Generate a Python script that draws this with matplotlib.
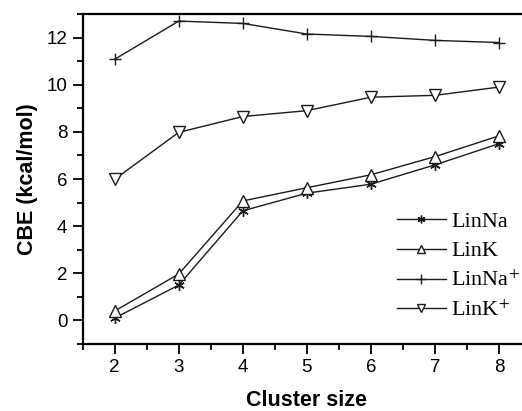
import matplotlib
matplotlib.use("Agg")
import matplotlib.pyplot as plt
from matplotlib.ticker import MultipleLocator

plt.rcParams['font.family'] = ['Liberation Sans', 'DejaVu Sans']
plt.rcParams['mathtext.fontset'] = 'stix'

cluster = [2, 3, 4, 5, 6, 7, 8]
lin_na = [0.1, 1.5, 4.65, 5.4, 5.78, 6.6, 7.5]
lin_k = [0.4, 1.97, 5.07, 5.63, 6.18, 6.95, 7.83]
lin_na_p = [11.08, 12.7, 12.6, 12.15, 12.05, 11.88, 11.79]
lin_k_p = [5.99, 7.98, 8.65, 8.9, 9.47, 9.55, 9.9]
labels = ['LinNa', 'LinK', 'LinNa$^{+}$', 'LinK$^{+}$']

fig = plt.figure(figsize=(5.22, 4.11), dpi=100)
ax = fig.add_axes([82.7/522, 1-344/411, 448.4/522, 330/411])

lc = '#1a1a1a'
ax.plot(cluster, lin_na, color=lc, lw=1, marker=(6, 2, 0), ms=7.5, mew=1, label=labels[0])
ax.plot(cluster, lin_k, color=lc, lw=1, marker='^', ms=8.5, mfc='white', mew=1, label=labels[1])
ax.plot(cluster, lin_na_p, color=lc, lw=1, marker='+', ms=9, mew=1, label=labels[2])
ax.plot(cluster, lin_k_p, color=lc, lw=1, marker='v', ms=8.5, mfc='white', mew=1, label=labels[3])

ax.set_xlim(1.5, 8.5)
ax.set_ylim(-1, 13)
ax.xaxis.set_major_locator(MultipleLocator(1))
ax.xaxis.set_minor_locator(MultipleLocator(0.5))
ax.yaxis.set_major_locator(MultipleLocator(2))
ax.yaxis.set_minor_locator(MultipleLocator(1))
ax.tick_params(which='both', direction='out', width=1.3, labelsize=13.5, top=False, right=False)
ax.tick_params(which='major', length=7, pad=4)
ax.tick_params(which='minor', length=4)
for s in ax.spines.values():
    s.set_linewidth(1.6)

ax.set_xlabel('Cluster size', fontsize=15.5, fontweight='bold', labelpad=10)
ax.set_ylabel('CBE (kcal/mol)', fontsize=15.5, fontweight='bold', labelpad=6)

leg = ax.legend(loc='upper left', bbox_to_anchor=(314/448.4, 1-197/330), frameon=False,
                prop={'family': 'Liberation Serif', 'size': 16}, handlelength=2.2,
                handletextpad=0.25, labelspacing=0.42, borderaxespad=0, borderpad=0,
                markerscale=0.75)

fig.savefig('out.png', dpi=100)
